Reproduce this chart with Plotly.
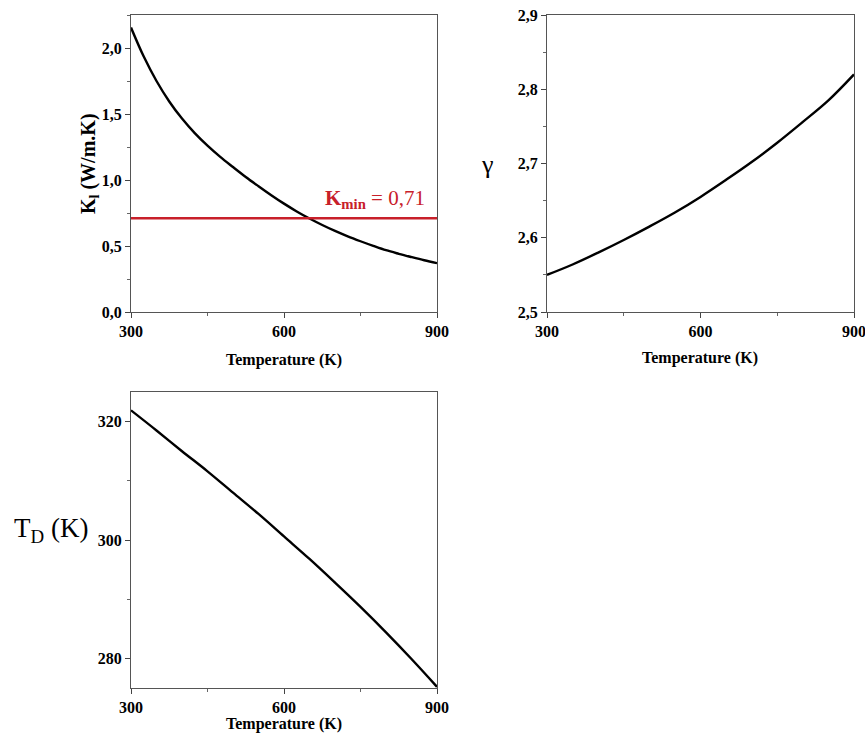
import plotly.graph_objects as go

# Temperature grid for the lattice conductivity (K)
temperature_k = [300, 325, 350, 375, 400, 425, 450, 475, 500, 525, 550, 575, 600,
                 625, 650, 675, 700, 725, 750, 775, 800, 825, 850, 875, 900]

# Lattice thermal conductivity (W/m.K)
kappa_l = [2.155, 1.935, 1.750, 1.595, 1.465, 1.355, 1.260, 1.175, 1.098, 1.023, 0.953, 0.885,
           0.821, 0.762, 0.708, 0.659, 0.614, 0.573, 0.536, 0.501, 0.468, 0.441, 0.416, 0.392,
           0.370]
kappa_min = 0.71

# Temperature grid for gamma and the Debye temperature (K)
temperature = [300, 350, 400, 450, 500, 550, 600, 650, 700, 750, 800, 850, 900]

# Grüneisen parameter
gamma = [2.550, 2.564, 2.580, 2.597, 2.615, 2.634, 2.655, 2.678, 2.702, 2.728, 2.756, 2.785, 2.820]

# Debye temperature (K)
debye_T = [321.9, 318.5, 315.0, 311.6, 308.0, 304.4, 300.6, 296.8, 292.8, 288.7, 284.4, 279.9, 275.2]

SERIF = "Liberation Serif"
RED = "#c8202a"
W, H = 865, 733

fig = go.Figure()

# Curves
fig.add_trace(go.Scatter(x=temperature_k, y=kappa_l, mode="lines", line_shape="spline",
                         line=dict(color="black", width=2.4), xaxis="x", yaxis="y"))
fig.add_trace(go.Scatter(x=[temperature_k[0], temperature_k[-1]], y=[kappa_min, kappa_min],
                         mode="lines", line=dict(color=RED, width=2.6), xaxis="x", yaxis="y"))
fig.add_trace(go.Scatter(x=temperature, y=gamma, mode="lines", line_shape="spline",
                         line=dict(color="black", width=2.4), xaxis="x2", yaxis="y2"))
fig.add_trace(go.Scatter(x=temperature, y=debye_T, mode="lines", line_shape="spline",
                         line=dict(color="black", width=2.4), xaxis="x3", yaxis="y3"))


def px_x(a, b):
    return [a / W, b / W]


def px_y(top, bottom):
    return [1 - bottom / H, 1 - top / H]


tickfont = dict(family=SERIF, size=16, color="black", weight="bold")


def xax(domain, anchor):
    return dict(domain=domain, anchor=anchor, range=[300, 900], tickvals=[300, 600, 900],
                ticks="outside", ticklen=5, tickcolor="#444", tickfont=tickfont,
                ticklabeloverflow="allow",
                showline=True, mirror=True, linecolor="#555", linewidth=1,
                showgrid=False, zeroline=False, automargin=False,
                minor=dict(tickvals=[450, 750], ticks="outside", ticklen=3, tickcolor="#666"))


def yax(domain, anchor, rng, tick0, dtick, minor_dtick, fmt):
    return dict(domain=domain, anchor=anchor, range=rng, dtick=dtick, tick0=tick0,
                tickformat=fmt, ticks="outside", ticklen=5, tickcolor="#444", tickfont=tickfont,
                ticklabeloverflow="allow",
                showline=True, mirror=True, linecolor="#555", linewidth=1,
                showgrid=False, zeroline=False, automargin=False,
                minor=dict(dtick=minor_dtick, tick0=tick0, ticks="outside", ticklen=3,
                           tickcolor="#666"))


fig.update_layout(
    width=W, height=H,
    margin=dict(l=0, r=0, t=0, b=0, autoexpand=False),
    paper_bgcolor="white", plot_bgcolor="white",
    showlegend=False,
    separators=", ",
    font=dict(family=SERIF, color="black"),
    xaxis=xax(px_x(131, 437), "y"),
    yaxis=yax(px_y(15, 312), "x", [0, 2.25], 0, 0.5, 0.25, ".1f"),
    xaxis2=xax(px_x(547, 854), "y2"),
    yaxis2=yax(px_y(15, 312), "x2", [2.5, 2.9], 2.5, 0.1, 0.05, ".1f"),
    xaxis3=xax(px_x(131, 437), "y3"),
    yaxis3=yax(px_y(392, 688), "x3", [275, 325], 280, 20, 10, "d"),
)

kmin_text = f"<b>K<sub>min</sub></b> = {kappa_min:.2f}".replace(".", ",")


def label(x, y, text, size, angle=0):
    return dict(x=x / W, y=1 - y / H, xref="paper", yref="paper", xanchor="center",
                yanchor="middle", text=text, textangle=angle, showarrow=False,
                font=dict(family=SERIF, size=size, color="black"))


annotations = [
    # K_min label above the red line
    dict(x=900, y=kappa_min, xref="x", yref="y", xanchor="right", yanchor="bottom",
         xshift=-10, yshift=4, text=kmin_text, showarrow=False,
         font=dict(family=SERIF, size=21, color=RED)),
    # x-axis titles
    label(284, 360, "<b>Temperature (K)</b>", 16),
    label(700, 358, "<b>Temperature (K)</b>", 16),
    label(284, 724, "<b>Temperature (K)</b>", 16),
    # y-axis titles
    label(89, 164, "<b>K<sub>l</sub> (W/m.K)</b>", 20, angle=-90),
    label(487, 164, "γ", 26),
    label(51, 530, "T<sub>D</sub> (K)", 27),
]
fig.update_layout(annotations=annotations)

fig.write_html("out.html")
